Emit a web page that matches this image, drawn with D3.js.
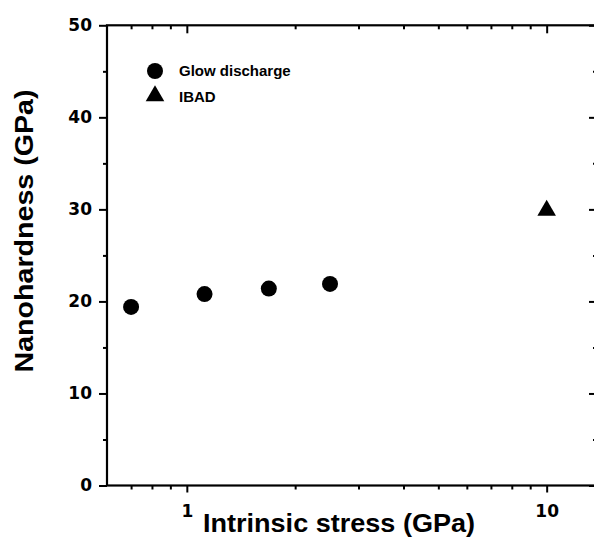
<!DOCTYPE html>
<html>
<head>
<meta charset="utf-8">
<script src="https://cdn.jsdelivr.net/npm/d3@7"></script>
<style>
  body { margin: 0; background: #fff; }
  svg { display: block; }
</style>
</head>
<body>
<svg id="chart" width="594" height="539"></svg>
<script>
// Nanohardness vs. intrinsic stress for two deposition methods
const glowStress   = [0.70, 1.12, 1.69, 2.50];
const glowHardness = [19.4, 20.8, 21.4, 21.9];
const ibadStress   = [10];
const ibadHardness = [30.0];

const legendLabels = ["Glow discharge", "IBAD"];
const xMajorTicks = [1, 10];
const xMinorTicks = [0.7, 0.8, 0.9, 2, 3, 4, 5, 6, 7, 8, 9];
const yMajorTicks = [0, 10, 20, 30, 40, 50];
const yMinorTicks = [5, 15, 25, 35, 45];

const svg = d3.select("#chart");
const x = d3.scaleLog().domain([0.6, 13.8]).range([107, 597]);
const y = d3.scaleLinear().domain([0, 50]).range([485.5, 25.3]);

const tickFont = "'DejaVu Sans', sans-serif";
const titleFont = "'Liberation Sans', Arial, sans-serif";

function styleAxis(g) {
  g.select(".domain").remove();
  g.selectAll(".tick line").attr("stroke", "#000").attr("stroke-width", 2);
  g.selectAll(".tick text")
    .attr("fill", "#000")
    .style("font-family", tickFont)
    .style("font-weight", "bold")
    .style("font-size", "17px");
}

// bottom axis: major with labels, minor without
svg.append("g").attr("transform", `translate(0,${y(0)})`)
  .call(d3.axisBottom(x).tickValues(xMajorTicks).tickSize(7).tickPadding(12.5).tickFormat(d3.format("d")))
  .call(styleAxis);
svg.append("g").attr("transform", `translate(0,${y(0)})`)
  .call(d3.axisBottom(x).tickValues(xMinorTicks).tickSize(4).tickFormat(""))
  .call(styleAxis);

// top axis: inward ticks
svg.append("g").attr("transform", `translate(0,${y(50)})`)
  .call(d3.axisBottom(x).tickValues(xMajorTicks).tickSize(8).tickFormat(""))
  .call(styleAxis);
svg.append("g").attr("transform", `translate(0,${y(50)})`)
  .call(d3.axisBottom(x).tickValues(xMinorTicks).tickSize(4).tickFormat(""))
  .call(styleAxis);

// left axis
svg.append("g").attr("transform", `translate(${x(0.6)},0)`)
  .call(d3.axisLeft(y).tickValues(yMajorTicks).tickSize(8).tickPadding(7).tickFormat(d3.format("d")))
  .call(styleAxis);
svg.append("g").attr("transform", `translate(${x(0.6)},0)`)
  .call(d3.axisLeft(y).tickValues(yMinorTicks).tickSize(4).tickFormat(""))
  .call(styleAxis);

// right axis: inward ticks
svg.append("g").attr("transform", `translate(${x(13.8)},0)`)
  .call(d3.axisLeft(y).tickValues(yMajorTicks).tickSize(8).tickFormat(""))
  .call(styleAxis);
svg.append("g").attr("transform", `translate(${x(13.8)},0)`)
  .call(d3.axisLeft(y).tickValues(yMinorTicks).tickSize(4).tickFormat(""))
  .call(styleAxis);

// frame
svg.append("rect")
  .attr("x", x(0.6)).attr("y", y(50))
  .attr("width", x(13.8) - x(0.6)).attr("height", y(0) - y(50))
  .attr("fill", "none").attr("stroke", "#000").attr("stroke-width", 2.2);

const triangle = d3.symbol().type(d3.symbolTriangle).size(150);

// glow discharge points
svg.append("g").selectAll("circle")
  .data(glowStress.map((s, i) => [s, glowHardness[i]]))
  .join("circle")
  .attr("cx", d => x(d[0])).attr("cy", d => y(d[1]))
  .attr("r", 8).attr("fill", "#000");

// IBAD points
svg.append("g").selectAll("path")
  .data(ibadStress.map((s, i) => [s, ibadHardness[i]]))
  .join("path")
  .attr("d", triangle)
  .attr("transform", d => `translate(${x(d[0])},${y(d[1]) + 1})`)
  .attr("fill", "#000");

// legend
const legend = svg.append("g");
legend.append("circle").attr("cx", 155).attr("cy", 71).attr("r", 8).attr("fill", "#000");
legend.append("path").attr("d", triangle).attr("transform", "translate(155,96)").attr("fill", "#000");
legend.selectAll("text").data(legendLabels).join("text")
  .attr("x", 179).attr("y", (d, i) => 76 + i * 25.5)
  .text(d => d)
  .style("font-family", titleFont).style("font-weight", "bold").style("font-size", "15px")
  .attr("fill", "#000");

// axis titles
svg.append("text")
  .attr("x", 339).attr("y", 532)
  .attr("text-anchor", "middle")
  .attr("textLength", 272).attr("lengthAdjust", "spacingAndGlyphs")
  .style("font-family", titleFont).style("font-weight", "bold").style("font-size", "26px")
  .text("Intrinsic stress (GPa)");

svg.append("text")
  .attr("transform", "translate(33,231) rotate(-90)")
  .attr("text-anchor", "middle")
  .attr("textLength", 283).attr("lengthAdjust", "spacingAndGlyphs")
  .style("font-family", titleFont).style("font-weight", "bold").style("font-size", "25px")
  .text("Nanohardness (GPa)");
</script>
</body>
</html>
